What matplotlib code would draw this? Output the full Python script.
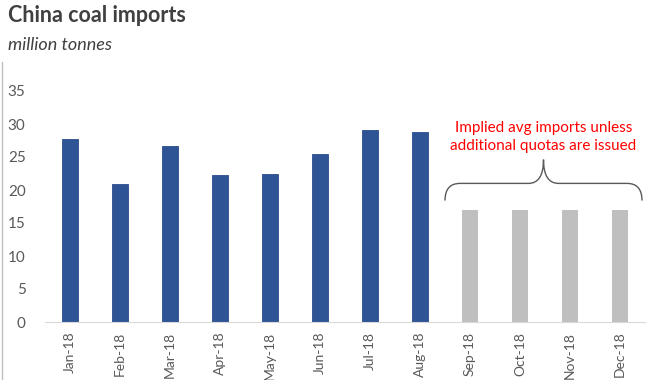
import matplotlib
matplotlib.use("Agg")
import matplotlib.pyplot as plt
from matplotlib.path import Path
from matplotlib.patches import PathPatch
from matplotlib.lines import Line2D

months = ["Jan-18", "Feb-18", "Mar-18", "Apr-18", "May-18", "Jun-18",
          "Jul-18", "Aug-18", "Sep-18", "Oct-18", "Nov-18", "Dec-18"]
actual = [27.7, 20.9, 26.7, 22.3, 22.4, 25.5, 29.1, 28.8]
implied = [17.0, 17.0, 17.0, 17.0]
yticks = [0, 5, 10, 15, 20, 25, 30, 35]

plt.rcParams['font.family'] = ['Lato', 'DejaVu Sans']

fig = plt.figure(figsize=(6.7, 3.8), dpi=100)
ax = fig.add_axes([45/670, 1-322/380, 600/670, 231/380])

n_act = len(actual)
x_act = list(range(n_act))
x_imp = list(range(n_act, n_act + len(implied)))
ax.bar(x_act, actual, width=0.32, color="#2F5496", edgecolor="#2A4B8C", linewidth=0.6)
ax.bar(x_imp, implied, width=0.32, color="#BFBFBF")

ax.set_xlim(-0.5, len(months) - 0.5)
ax.set_ylim(0, 35)
ax.set_yticks(yticks)
ax.set_xticks(range(len(months)))
ax.set_xticklabels(months, rotation=90, fontsize=10, color="#595959")
ax.tick_params(axis='y', labelsize=11, colors="#595959", length=0, pad=14)
ax.tick_params(axis='x', length=0, pad=7)
for s in ["top", "right", "left"]:
    ax.spines[s].set_visible(False)
ax.spines["bottom"].set_color("#D9D9D9")

# brace
xl, xr = 7.5, 11.44
xm = (xl + xr) / 2
yb, yh, yp = 18.4, 21.0, 24.6
verts = [(xl, yb), (xl, yh), (xl + 0.3, yh),
         (xm - 0.3, yh), (xm, yh), (xm, yp),
         (xm, yh), (xm + 0.3, yh),
         (xr - 0.3, yh), (xr, yh), (xr, yb)]
codes = [Path.MOVETO, Path.CURVE3, Path.CURVE3,
         Path.LINETO, Path.CURVE3, Path.CURVE3,
         Path.CURVE3, Path.CURVE3,
         Path.LINETO, Path.CURVE3, Path.CURVE3]
ax.add_patch(PathPatch(Path(verts, codes), facecolor="none", edgecolor="#595959",
                       linewidth=1.0, clip_on=False))

ax.text(xm, 28.0, "Implied avg imports unless\nadditional quotas are issued",
        ha="center", va="center", color="#FF0000", fontsize=11, linespacing=1.35)

fig.text(8/670, 1-16/380, "China coal imports", fontsize=15.5, fontweight="bold",
         color="#404040", va="center", ha="left")
fig.text(8/670, 1-45/380, "million tonnes", fontsize=13, fontstyle="italic",
         color="#404040", va="center", ha="left")

fig.add_artist(Line2D([2/670, 2/670], [0, 1-62/380], transform=fig.transFigure,
                      color="#BFBFBF", linewidth=1.0))

fig.savefig("out.png", dpi=100)
